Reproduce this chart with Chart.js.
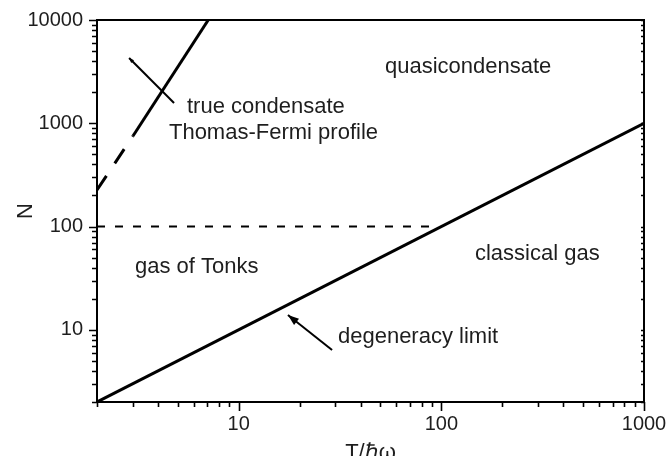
<!DOCTYPE html>
<html>
<head>
<meta charset="utf-8">
<script src="https://cdn.jsdelivr.net/npm/chart.js@4.4.1/dist/chart.umd.min.js"></script>
<style>
  html, body { margin: 0; padding: 0; background: #fff; overflow: hidden; }
  #wrap { position: absolute; left: 0; top: 0; width: 670px; height: 470px; }
</style>
</head>
<body>
<div id="wrap"><canvas id="phase" width="670" height="470"></canvas></div>
<script>
// degeneracy limit, N = T
var degenT = [2, 1000];
var degenN = [2, 1000];
// Thomas-Fermi boundary, dashed then solid
var tfDashT = [2, 3.01];
var tfDashN = [226, 753];
var tfSolidT = [3.01, 7.08];
var tfSolidN = [753, 10000];
// N = 100 dashed line
var tonksT = [2, 93];
var tonksN = [100, 100];

// region labels (left edge, baseline)
var labelText = ['quasicondensate', 'true condensate', 'Thomas-Fermi profile', 'gas of Tonks', 'classical gas', 'degeneracy limit'];
var labelT = [52.7, 5.56, 4.53, 3.08, 146.5, 30.9];
var labelN = [3068, 1257, 704, 35.5, 47.4, 7.45];

// arrows: tip -> tail
var arrowTipT = [2.88, 17.5];
var arrowTipN = [4285, 13.9];
var arrowTailT = [4.80, 28.9];
var arrowTailN = [1572, 6.37];

var xTitle = 'T/\u210F\u03C9';
var yTitle = 'N';

function pts(xs, ys) {
    return xs.map(function (v, i) { return {x: v, y: ys[i]}; });
}

function isPow10(v) {
    var l = Math.log10(v);
    return Math.abs(l - Math.round(l)) < 1e-9;
}

function isDecadeStep(v) {
    var p = Math.pow(10, Math.floor(Math.log10(v) + 1e-9));
    var s = v / p;
    return Math.abs(s - Math.round(s)) < 1e-6;
}

var FONT = '"Liberation Sans", Arial, Helvetica, sans-serif';

var overlay = {
    id: 'overlay',
    afterDraw: function (chart) {
        var ctx = chart.ctx;
        var a = chart.chartArea;
        var x = chart.scales.x, y = chart.scales.y;
        ctx.save();

        // frame
        ctx.strokeStyle = '#000';
        ctx.lineWidth = 2;
        ctx.strokeRect(a.left, a.top, a.right - a.left, a.bottom - a.top);

        // tick marks
        ctx.lineWidth = 1.6;
        ctx.beginPath();
        x.ticks.forEach(function (t) {
            if (!isDecadeStep(t.value)) return;
            var px = Math.round(x.getPixelForValue(t.value)) + 0.5;
            var len = isPow10(t.value) ? 9 : 5;
            ctx.moveTo(px, a.bottom);
            ctx.lineTo(px, a.bottom + len);
        });
        y.ticks.forEach(function (t) {
            if (!isDecadeStep(t.value)) return;
            var py = Math.round(y.getPixelForValue(t.value)) + 0.5;
            var len = isPow10(t.value) ? 8 : 5;
            ctx.moveTo(a.left, py);
            ctx.lineTo(a.left - len, py);
            ctx.moveTo(a.right, py);
            ctx.lineTo(a.right - 3, py);
        });
        ctx.stroke();

        // arrows
        ctx.fillStyle = '#000';
        ctx.lineWidth = 2;
        for (var i = 0; i < arrowTipT.length; i++) {
            var x1 = x.getPixelForValue(arrowTipT[i]), y1 = y.getPixelForValue(arrowTipN[i]);
            var x2 = x.getPixelForValue(arrowTailT[i]), y2 = y.getPixelForValue(arrowTailN[i]);
            ctx.beginPath();
            ctx.moveTo(x2, y2);
            ctx.lineTo(x1, y1);
            ctx.stroke();
            var ang = Math.atan2(y1 - y2, x1 - x2);
            var hl = i === 0 ? 5 : 11, hw = i === 0 ? 2 : 4;
            ctx.beginPath();
            ctx.moveTo(x1, y1);
            ctx.lineTo(x1 - hl * Math.cos(ang) + hw * Math.sin(ang), y1 - hl * Math.sin(ang) - hw * Math.cos(ang));
            ctx.lineTo(x1 - hl * Math.cos(ang) - hw * Math.sin(ang), y1 - hl * Math.sin(ang) + hw * Math.cos(ang));
            ctx.closePath();
            ctx.fill();
        }

        // region labels
        ctx.fillStyle = '#1e1e1e';
        ctx.font = '22px ' + FONT;
        ctx.textAlign = 'left';
        ctx.textBaseline = 'alphabetic';
        labelText.forEach(function (s, i) {
            ctx.fillText(s, x.getPixelForValue(labelT[i]), y.getPixelForValue(labelN[i]));
        });

        // axis titles
        ctx.textAlign = 'center';
        ctx.fillText(xTitle, (a.left + a.right) / 2, 459);
        ctx.translate(26, (a.top + a.bottom) / 2);
        ctx.rotate(-Math.PI / 2);
        ctx.textBaseline = 'middle';
        ctx.fillText(yTitle, 0, 0);
        ctx.restore();
    }
};

function noPad(s) {
    s.paddingTop = 0;
    s.paddingBottom = 0;
    s.paddingLeft = 0;
    s.paddingRight = 0;
}

var line = {borderColor: '#000', backgroundColor: '#000', pointRadius: 0, fill: false, showLine: true};

new Chart(document.getElementById('phase').getContext('2d'), {
    type: 'scatter',
    data: {
        datasets: [
            Object.assign({label: 'degeneracy limit', data: pts(degenT, degenN), borderWidth: 3}, line),
            Object.assign({label: 'TF dashed', data: pts(tfDashT, tfDashN), borderWidth: 3, borderDash: [17, 15]}, line),
            Object.assign({label: 'TF solid', data: pts(tfSolidT, tfSolidN), borderWidth: 3}, line),
            Object.assign({label: 'N=100', data: pts(tonksT, tonksN), borderWidth: 2, borderDash: [8, 10]}, line)
        ]
    },
    options: {
        responsive: false,
        animation: false,
        devicePixelRatio: 1,
        layout: {padding: {top: 20, right: 26, left: 0, bottom: 0}},
        plugins: {legend: {display: false}, tooltip: {enabled: false}},
        scales: {
            x: {
                type: 'logarithmic',
                min: 2,
                max: 1000,
                grid: {display: false, drawTicks: false},
                border: {display: false},
                ticks: {
                    autoSkip: false,
                    maxRotation: 0,
                    padding: 10,
                    color: '#1e1e1e',
                    font: {family: FONT, size: 20},
                    callback: function (v) { return isPow10(v) ? String(v) : ''; }
                },
                afterFit: function (s) { s.height = 68; noPad(s); }
            },
            y: {
                type: 'logarithmic',
                min: 2,
                max: 10000,
                grid: {display: false, drawTicks: false},
                border: {display: false},
                ticks: {
                    autoSkip: false,
                    padding: 14,
                    color: '#1e1e1e',
                    font: {family: FONT, size: 20},
                    callback: function (v) { return isPow10(v) ? String(v) : ''; }
                },
                afterFit: function (s) { s.width = 97; noPad(s); }
            }
        }
    },
    plugins: [overlay]
});
</script>
</body>
</html>
